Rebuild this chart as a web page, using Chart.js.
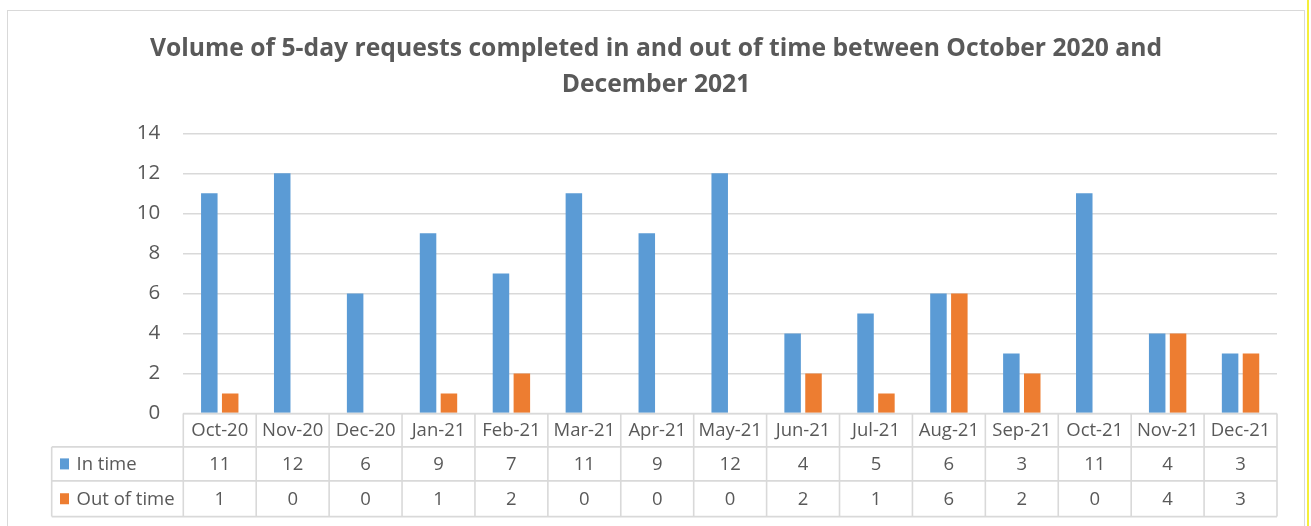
<!DOCTYPE html>
<html>
<head>
<meta charset="utf-8">
<script src="https://cdn.jsdelivr.net/npm/chart.js@4.4.0/dist/chart.umd.min.js"></script>
<style>
  html, body { margin: 0; padding: 0; background: #ffffff; }
  #wrap { position: relative; width: 1311px; height: 526px; overflow: hidden; }
  #frame { position: absolute; left: 7px; top: 10px; width: 1298px; height: 530px; border: 1px solid #d9d9d9; box-sizing: border-box; pointer-events: none; }
  #mark { position: absolute; left: 1307px; top: 0; width: 2px; height: 526px; background: #f5ef3a; }
  canvas { position: absolute; left: 0; top: 0; }
</style>
</head>
<body>
<div id="wrap">
  <canvas id="c" width="1311" height="526"></canvas>
  <div id="frame"></div>
  <div id="mark"></div>
</div>
<script>
const titleLines = ["Volume of 5-day requests completed in and out of time between October 2020 and", "December 2021"];
const categories = ["Oct-20","Nov-20","Dec-20","Jan-21","Feb-21","Mar-21","Apr-21","May-21","Jun-21","Jul-21","Aug-21","Sep-21","Oct-21","Nov-21","Dec-21"];
const seriesNames = ["In time", "Out of time"];
const inTime = [11,12,6,9,7,11,9,12,4,5,6,3,11,4,3];
const outOfTime = [1,0,0,1,2,0,0,0,2,1,6,2,0,4,3];
const yTicks = [0,2,4,6,8,10,12,14];
const colors = ["#5B9BD5", "#ED7D31"];

const FONT = "'Open Sans', Lato, sans-serif";
const TEXT = "#595959";
const LINE = "#d9d9d9";

const tablePlugin = {
  id: 'dataTable',
  afterDraw(chart) {
    const ctx = chart.ctx;
    const x = chart.scales.x;
    const area = chart.chartArea;
    const n = categories.length;
    const colW = (area.right - area.left) / n;
    const y0 = area.bottom;
    const rowH = [33.4, 34, 35.7];
    const y1 = y0 + rowH[0], y2 = y1 + rowH[1], y3 = y2 + rowH[2];
    const labelLeft = 51.7;
    ctx.save();
    ctx.strokeStyle = LINE;
    ctx.lineWidth = 1.6;
    ctx.beginPath();
    ctx.moveTo(area.left, y0); ctx.lineTo(area.right, y0);
    [y1, y2, y3].forEach(y => { ctx.moveTo(labelLeft, y); ctx.lineTo(area.right, y); });
    for (let i = 0; i <= n; i++) {
      const xx = area.left + i * colW;
      ctx.moveTo(xx, y0); ctx.lineTo(xx, y3);
    }
    ctx.moveTo(labelLeft, y1); ctx.lineTo(labelLeft, y3);
    ctx.stroke();

    ctx.fillStyle = TEXT;
    ctx.font = "18.5px " + FONT;
    ctx.textAlign = "center";
    ctx.textBaseline = "middle";
    const rows = [inTime, outOfTime];
    categories.forEach((c, i) => {
      const cx = x.getPixelForValue(i);
      ctx.fillText(c, cx, (y0 + y1) / 2 + 0.5);
      ctx.fillText(String(rows[0][i]), cx, (y1 + y2) / 2 + 0.5);
      ctx.fillText(String(rows[1][i]), cx, (y2 + y3) / 2 + 0.5);
    });
    const mids = [(y1 + y2) / 2, (y2 + y3) / 2];
    seriesNames.forEach((s, k) => {
      ctx.fillStyle = colors[k];
      ctx.fillRect(60, mids[k] - 5.5, 9, 11);
      ctx.fillStyle = TEXT;
      ctx.textAlign = "left";
      ctx.fillText(s, 76.5, mids[k] + 0.5);
    });

    ctx.fillStyle = TEXT;
    ctx.font = "bold 24.7px " + FONT;
    ctx.textAlign = "center";
    ctx.textBaseline = "alphabetic";
    ctx.fillText(titleLines[0], 656, 56);
    ctx.fillText(titleLines[1], 656, 91.5);
    ctx.restore();
  }
};

new Chart(document.getElementById('c'), {
  type: 'bar',
  data: {
    labels: categories,
    datasets: [
      { label: seriesNames[0], data: inTime, backgroundColor: colors[0], categoryPercentage: 0.573, barPercentage: 0.79 },
      { label: seriesNames[1], data: outOfTime, backgroundColor: colors[1], categoryPercentage: 0.573, barPercentage: 0.79 }
    ]
  },
  options: {
    responsive: false,
    animation: false,
    layout: { padding: { left: 0, right: 34, top: 133.3, bottom: 112.5 } },
    plugins: { legend: { display: false }, title: { display: false }, tooltip: { enabled: false } },
    scales: {
      x: { display: false, offset: true },
      y: {
        min: 0, max: 14,
        afterBuildTicks: s => { s.ticks = yTicks.map(v => ({ value: v })); },
        afterFit: s => { s.width = 183.3; },
        border: { display: false },
        grid: { color: LINE, lineWidth: 1.6, drawTicks: false },
        ticks: { color: TEXT, font: { family: FONT, size: 20.5 }, padding: 23 }
      }
    }
  },
  plugins: [tablePlugin]
});
</script>
</body>
</html>
